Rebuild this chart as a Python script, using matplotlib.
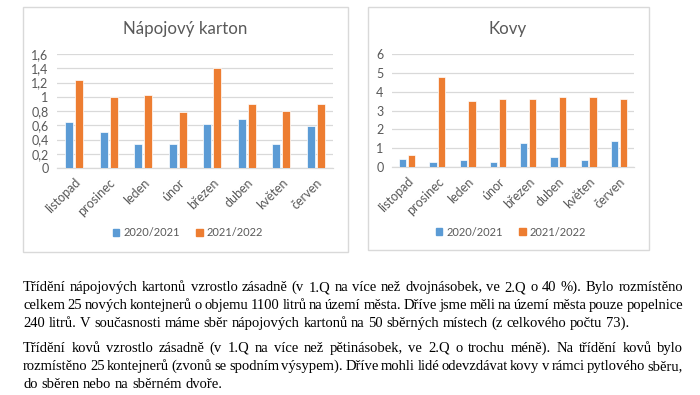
import matplotlib.pyplot as plt
import numpy as np
from matplotlib.patches import Rectangle

months = ["listopad", "prosinec", "leden", "únor", "březen", "duben", "květen", "červen"]
series_labels = ["2020/2021", "2021/2022"]

karton_2021 = [0.65, 0.51, 0.34, 0.33, 0.62, 0.69, 0.33, 0.59]
karton_2122 = [1.23, 0.99, 1.02, 0.78, 1.40, 0.90, 0.80, 0.90]
karton_ticks = [0, 0.2, 0.4, 0.6, 0.8, 1.0, 1.2, 1.4, 1.6]
karton_ticklabels = ["0", "0,2", "0,4", "0,6", "0,8", "1", "1,2", "1,4", "1,6"]

kovy_2021 = [0.42, 0.25, 0.38, 0.25, 1.25, 0.52, 0.35, 1.38]
kovy_2122 = [0.62, 4.80, 3.50, 3.60, 3.60, 3.70, 3.70, 3.60]
kovy_ticks = [0, 1, 2, 3, 4, 5, 6]
kovy_ticklabels = ["0", "1", "2", "3", "4", "5", "6"]

paragraphs = [
    [
        "Třídění nápojových kartonů vzrostlo zásadně (v 1.Q na více než dvojnásobek, ve 2.Q o 40 %). Bylo rozmístěno",
        "celkem 25 nových kontejnerů o objemu 1100 litrů na území města. Dříve jsme měli na území města pouze popelnice",
        "240 litrů. V současnosti máme sběr nápojových kartonů na 50 sběrných místech (z celkového počtu 73).",
    ],
    [
        "Třídění kovů vzrostlo zásadně (v 1.Q na více než pětinásobek, ve 2.Q o trochu méně). Na třídění kovů bylo",
        "rozmístěno 25 kontejnerů (zvonů se spodním výsypem). Dříve mohli lidé odevzdávat kovy v rámci pytlového sběru,",
        "do sběren nebo na sběrném dvoře.",
    ],
]

BLUE = "#5b9bd5"
ORANGE = "#ed7d31"
GREY_TEXT = "#595959"
GRID = "#d9d9d9"
CHART_FONT = "Lato"
BODY_FONT = "Liberation Serif"

W, H = 700, 395
fig = plt.figure(figsize=(W / 100, H / 100), dpi=100)


def fx(x):
    return x / W


def fy(y):
    return 1 - y / H


def draw_chart(box, plot, title, title_xy, a, b, ticks, ticklabels, legend_xy):
    x0, y0, x1, y1 = box
    fig.patches.append(Rectangle((fx(x0), fy(y1)), fx(x1) - fx(x0), fy(y0) - fy(y1),
                                 transform=fig.transFigure, facecolor="white",
                                 edgecolor=GRID, linewidth=1.0, zorder=-5))
    px0, py0, px1, py1 = plot
    ax = fig.add_axes([fx(px0), fy(py1), fx(px1) - fx(px0), fy(py0) - fy(py1)])
    ax.set_facecolor("none")
    x = np.arange(len(months))
    ax.bar(x - 0.145, a, 0.24, color=BLUE, edgecolor="white", linewidth=0.5, zorder=3)
    ax.bar(x + 0.145, b, 0.24, color=ORANGE, edgecolor="white", linewidth=0.5, zorder=3)
    ax.set_xlim(-0.5, len(months) - 0.5)
    ax.set_ylim(ticks[0], ticks[-1])
    ax.set_yticks(ticks)
    ax.set_yticklabels(ticklabels)
    ax.set_xticks(x)
    ax.set_xticklabels(months, rotation=45, ha="right", va="top", rotation_mode="anchor")
    ax.tick_params(length=0, labelsize=9, colors=GREY_TEXT, pad=6)
    ax.tick_params(axis="x", pad=6)
    for lab in ax.get_xticklabels() + ax.get_yticklabels():
        lab.set_family(CHART_FONT)
    ax.grid(axis="y", color=GRID, linewidth=0.9, zorder=0)
    for side in ["top", "right", "left"]:
        ax.spines[side].set_visible(False)
    ax.spines["bottom"].set_color(GRID)
    ax.spines["bottom"].set_linewidth(0.9)
    fig.text(fx(title_xy[0]), fy(title_xy[1]), title, ha="center", va="center",
             fontsize=12.2, color=GREY_TEXT, family=CHART_FONT)
    handles = [Rectangle((0, 0), 1, 1, color=BLUE), Rectangle((0, 0), 1, 1, color=ORANGE)]
    ax.legend(handles, series_labels, loc="center", ncol=2, frameon=False,
              bbox_to_anchor=(fx(legend_xy[0]), fy(legend_xy[1])), bbox_transform=fig.transFigure,
              prop={"family": CHART_FONT, "size": 8}, labelcolor=GREY_TEXT,
              handlelength=0.6, handleheight=0.6, handletextpad=0.4, columnspacing=1.4)
    return ax


draw_chart((23, 7, 348, 252), (57, 54, 333, 168), "Nápojový karton", (185, 29),
           karton_2021, karton_2122, karton_ticks, karton_ticklabels, (188, 233))
draw_chart((368, 7, 649, 250), (392, 54, 634, 167), "Kovy", (508, 29),
           kovy_2021, kovy_2122, kovy_ticks, kovy_ticklabels, (511, 232))

# justified body text, word by word
renderer = fig.canvas.get_renderer()
body_size = 10.5


def text_width(s):
    t = fig.text(0, 0, s, fontsize=body_size, family=BODY_FONT)
    w = t.get_window_extent(renderer).width
    t.remove()
    return w


space_w = text_width("x x") - text_width("xx")
left, right = 23, 683
baselines = [[291, 309, 327], [352, 370, 388]]

for lines, ys in zip(paragraphs, baselines):
    for i, (line, y) in enumerate(zip(lines, ys)):
        words = line.split(" ")
        widths = [text_width(w) for w in words]
        last = i == len(lines) - 1
        if last or len(words) < 2:
            gap = space_w
        else:
            gap = (right - left - sum(widths)) / (len(words) - 1)
        x = left
        for w, ww in zip(words, widths):
            fig.text(fx(x), fy(y), w, fontsize=body_size, family=BODY_FONT,
                     color="black", va="baseline", ha="left")
            x += ww + gap

fig.savefig("out.png", dpi=100, facecolor="white")
